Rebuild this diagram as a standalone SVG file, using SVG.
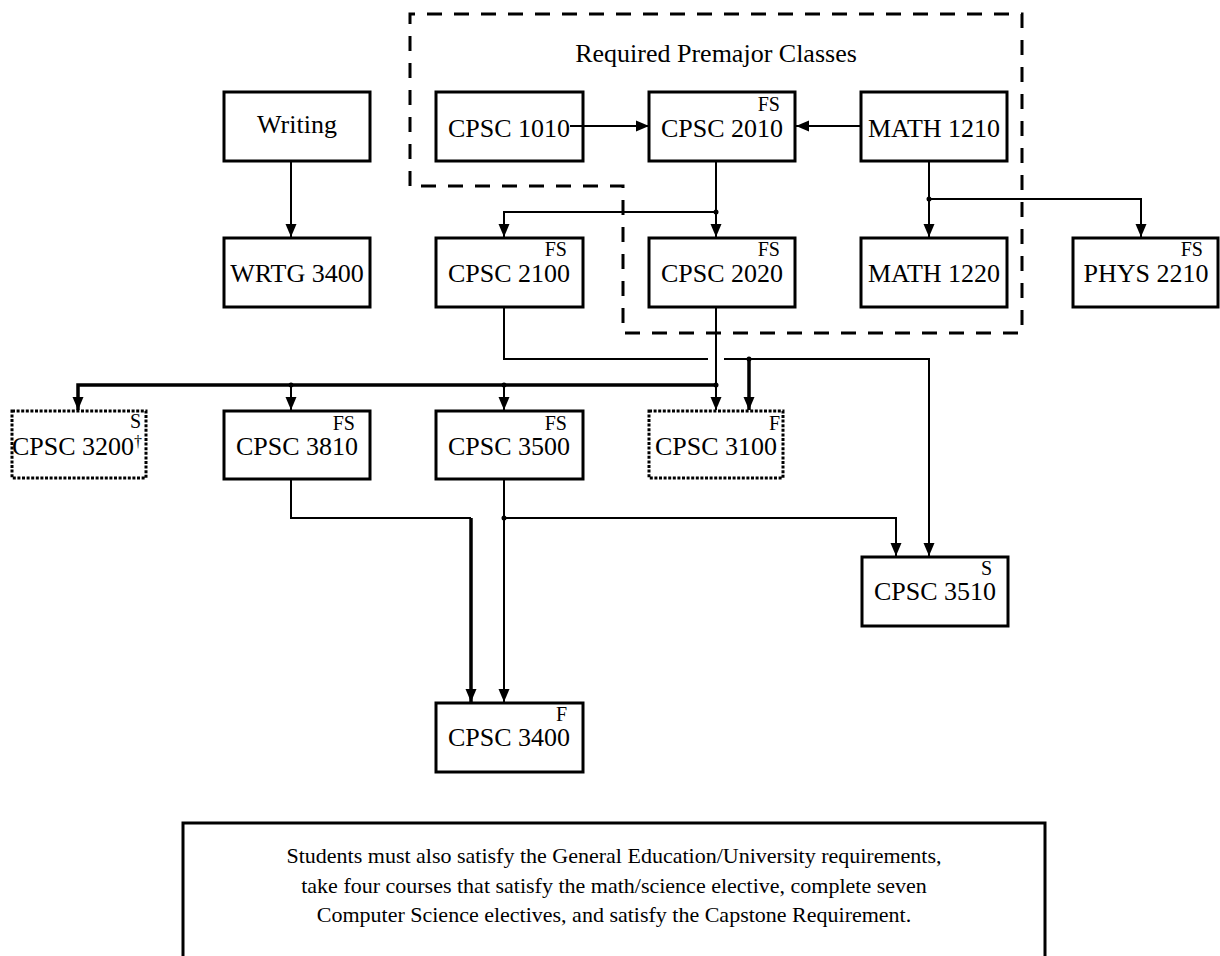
<svg xmlns="http://www.w3.org/2000/svg" width="1220" height="956" viewBox="0 0 1220 956">
<defs>
<marker id="ah" markerUnits="userSpaceOnUse" markerWidth="14" markerHeight="12" refX="13" refY="6" orient="auto">
<path d="M0,0.5 L13,6 L0,11.5 z" fill="#000"/>
</marker>
<style>
.box{fill:#fff;stroke:#000;stroke-width:3}
.dot{fill:#fff;stroke:#000;stroke-width:3;stroke-dasharray:3 1.6}
.lbl{font-family:"Liberation Serif","Times New Roman",serif;font-size:26px;fill:#000;text-anchor:middle}
.sup{font-family:"Liberation Serif","Times New Roman",serif;font-size:20px;fill:#000;text-anchor:end}
.note{font-family:"Liberation Serif","Times New Roman",serif;font-size:22px;fill:#000;text-anchor:middle}
.c{fill:none;stroke:#000;stroke-width:2}
.ct{fill:none;stroke:#000;stroke-width:3.5}
.j{fill:#000}
</style>
</defs>
<rect width="1220" height="956" fill="#fff"/>

<g id="premajor-group">
<path d="M410,186 V14 H1022 V333 H623 V186 Z" fill="none" stroke="#000" stroke-width="3" stroke-dasharray="15 12"/>
<text class="lbl" x="716" y="62">Required Premajor Classes</text>
</g>

<g id="writing">
<rect class="box" x="224" y="92" width="146" height="69"/>
<text class="lbl" x="297" y="133">Writing</text>
</g>
<g id="wrtg3400">
<rect class="box" x="224" y="238" width="146" height="69"/>
<text class="lbl" x="297" y="282">WRTG 3400</text>
</g>
<g id="cpsc1010">
<rect class="box" x="436" y="92" width="147" height="69"/>
<text class="lbl" x="509" y="137">CPSC 1010</text>
</g>
<g id="cpsc2010">
<rect class="box" x="649" y="92" width="146" height="69"/>
<text class="sup" x="780" y="111">FS</text>
<text class="lbl" x="722" y="137">CPSC 2010</text>
</g>
<g id="math1210">
<rect class="box" x="861" y="92" width="146" height="69"/>
<text class="lbl" x="934" y="137">MATH 1210</text>
</g>
<g id="cpsc2100">
<rect class="box" x="436" y="238" width="147" height="69"/>
<text class="sup" x="567" y="256">FS</text>
<text class="lbl" x="509" y="282">CPSC 2100</text>
</g>
<g id="cpsc2020">
<rect class="box" x="649" y="238" width="146" height="69"/>
<text class="sup" x="780" y="256">FS</text>
<text class="lbl" x="722" y="282">CPSC 2020</text>
</g>
<g id="math1220">
<rect class="box" x="861" y="238" width="146" height="69"/>
<text class="lbl" x="934" y="282">MATH 1220</text>
</g>
<g id="phys2210">
<rect class="box" x="1073" y="238" width="145" height="69"/>
<text class="sup" x="1203" y="256">FS</text>
<text class="lbl" x="1146" y="282">PHYS 2210</text>
</g>
<g id="cpsc3200">
<rect class="dot" x="12" y="411" width="134" height="67"/>
<text class="sup" x="141" y="428">S</text>
<text class="lbl" x="12" y="455" style="text-anchor:start">CPSC 3200<tspan font-size="16" dy="-8">†</tspan></text>
</g>
<g id="cpsc3810">
<rect class="box" x="224" y="411" width="146" height="68"/>
<text class="sup" x="355" y="430">FS</text>
<text class="lbl" x="297" y="455">CPSC 3810</text>
</g>
<g id="cpsc3500">
<rect class="box" x="436" y="411" width="147" height="68"/>
<text class="sup" x="567" y="430">FS</text>
<text class="lbl" x="509" y="455">CPSC 3500</text>
</g>
<g id="cpsc3100">
<rect class="dot" x="649" y="411" width="134" height="67"/>
<text class="sup" x="780" y="430">F</text>
<text class="lbl" x="716" y="455">CPSC 3100</text>
</g>
<g id="cpsc3510">
<rect class="box" x="862" y="557" width="146" height="69"/>
<text class="sup" x="992" y="575">S</text>
<text class="lbl" x="935" y="600">CPSC 3510</text>
</g>
<g id="cpsc3400">
<rect class="box" x="436" y="703" width="147" height="69"/>
<text class="sup" x="567" y="721">F</text>
<text class="lbl" x="509" y="746">CPSC 3400</text>
</g>

<g id="connectors">
<path class="c" d="M291,161 V237" marker-end="url(#ah)"/>
<path class="c" d="M570,126 H649" marker-end="url(#ah)"/>
<path class="c" d="M861,126 H796" marker-end="url(#ah)"/>
<path class="c" d="M716,161 V237" marker-end="url(#ah)"/>
<path class="c" d="M716,212 H504 V237" marker-end="url(#ah)"/>
<path class="c" d="M929,161 V237" marker-end="url(#ah)"/>
<path class="c" d="M929,199 H1141 V237" marker-end="url(#ah)"/>
<path class="c" d="M504,307 V359 H708"/>
<path class="c" d="M724,359 H929 V556" marker-end="url(#ah)"/>
<path class="ct" d="M749,359 V410" marker-end="url(#ah)"/>
<path class="c" d="M716,307 V410" marker-end="url(#ah)"/>
<path class="ct" d="M716,385 H78 V410" marker-end="url(#ah)"/>
<path class="c" d="M291,385 V410" marker-end="url(#ah)"/>
<path class="c" d="M504,385 V410" marker-end="url(#ah)"/>
<path class="c" d="M291,479 V518 H471"/>
<path class="ct" d="M471,518 V702" marker-end="url(#ah)"/>
<path class="c" d="M504,479 V702" marker-end="url(#ah)"/>
<path class="c" d="M504,518 H896 V556" marker-end="url(#ah)"/>
<circle class="j" cx="716" cy="212" r="2.5"/>
<circle class="j" cx="929" cy="199" r="2.5"/>
<circle class="j" cx="749" cy="359" r="2.5"/>
<circle class="j" cx="716" cy="385" r="2.5"/>
<circle class="j" cx="291" cy="385" r="2.5"/>
<circle class="j" cx="504" cy="385" r="2.5"/>
<circle class="j" cx="504" cy="518" r="2.5"/>
</g>

<g id="note">
<path d="M183,956 V823 H1045 V956" fill="none" stroke="#000" stroke-width="3"/>
<text class="note" x="614" y="863">Students must also satisfy the General Education/University requirements,</text>
<text class="note" x="614" y="893">take four courses that satisfy the math/science elective, complete seven</text>
<text class="note" x="614" y="922">Computer Science electives, and satisfy the Capstone Requirement.</text>
</g>
</svg>
